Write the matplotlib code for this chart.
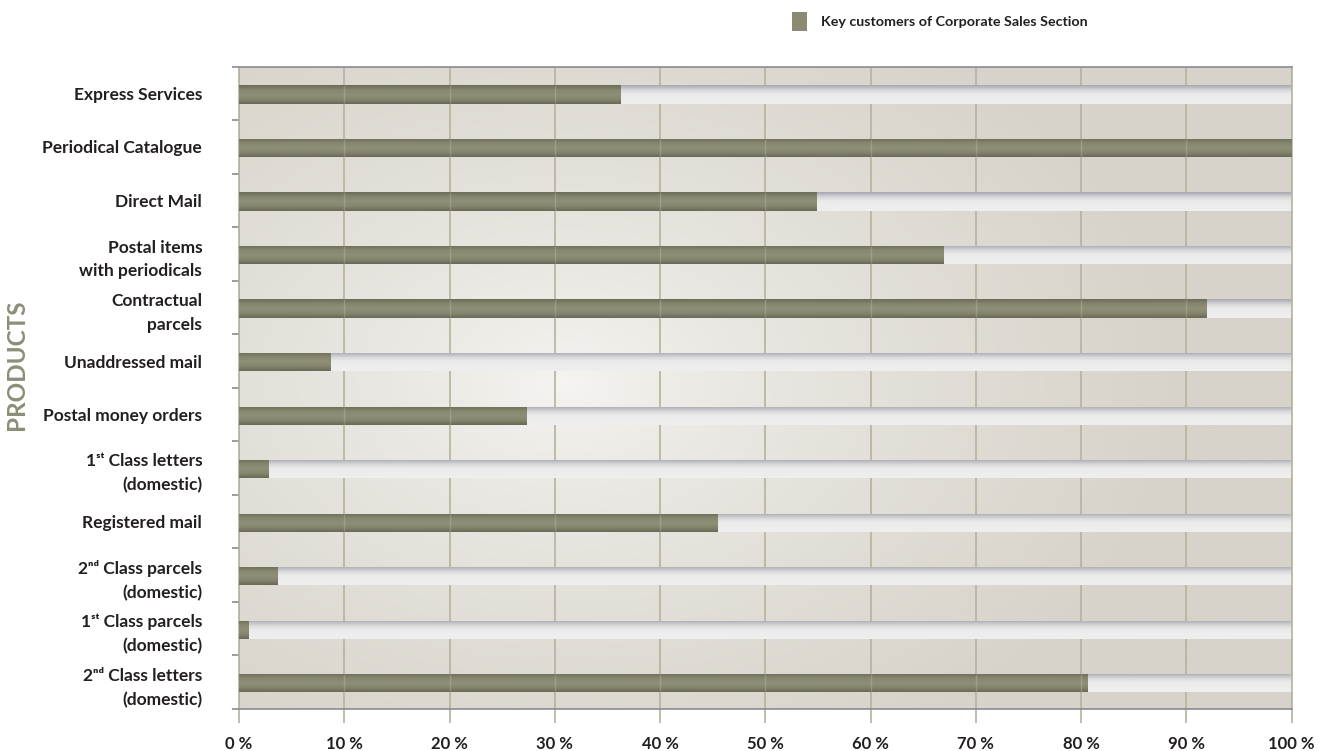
import numpy as np
import matplotlib
matplotlib.use("Agg")
import matplotlib.pyplot as plt
from matplotlib.patches import Rectangle
from matplotlib.colors import to_rgb

plt.rcParams['font.family'] = ['Lato', 'DejaVu Sans']

# ---------------- data ----------------
categories = [
    "Express Services",
    "Periodical Catalogue",
    "Direct Mail",
    "Postal items\nwith periodicals",
    "Contractual\nparcels",
    "Unaddressed mail",
    "Postal money orders",
    "1\u02e2\u1d57 Class letters\n(domestic)",
    "Registered mail",
    "2\u207f\u1d48 Class parcels\n(domestic)",
    "1\u02e2\u1d57 Class parcels\n(domestic)",
    "2\u207f\u1d48 Class letters\n(domestic)",
]
values = [36.25, 100.0, 54.85, 66.9, 91.9, 8.65, 27.35, 2.76, 45.5, 3.7, 0.86, 80.6]
xticks = [0, 10, 20, 30, 40, 50, 60, 70, 80, 90, 100]
xtick_labels = [f"{t} %" for t in xticks]
series_name = "Key customers of Corporate Sales Section"
axis_title = "PRODUCTS"

# ---------------- styling ----------------
BAR = '#8b8a72'
GRID = '#b5b29d'
SPINE = '#8a8a94'
TXT = '#231f20'

fig = plt.figure(figsize=(13.3, 7.51), dpi=100)
ax = fig.add_axes([239 / 1330, 1 - 709 / 751, (1291.5 - 239) / 1330, (709 - 66.7) / 751])

n = len(categories)
ypos = np.arange(n)
ax.set_xlim(0, 100)
ax.set_ylim(n - 0.5, -0.5)

# radial background
W, H = 1052, 642
xx, yy = np.meshgrid(np.arange(W), np.arange(H))
cx, cy = 325, 315
d = np.sqrt(((xx - cx) / 620.0) ** 2 + ((yy - cy) / 420.0) ** 2)
t = np.clip(d, 0, 1) ** 0.75
c_in = np.array(to_rgb('#f6f5f2'))
c_out = np.array(to_rgb('#d7d3ca'))
bg = c_in[None, None, :] * (1 - t[..., None]) + c_out[None, None, :] * t[..., None]
ax.imshow(bg, extent=[0, 100, n - 0.5, -0.5], aspect='auto', zorder=0, origin='upper')

ax.set_axisbelow(True)
ax.set_xticks(xticks)
ax.set_xticklabels(xtick_labels, fontsize=12, fontweight='bold', color=TXT)
ax.grid(axis='x', color=GRID, lw=1.2)

bh = 0.342
rest = [100 - v for v in values]
strips = ax.barh(ypos + 0.02, rest, left=values, height=bh, color='#ececec', lw=0, zorder=2)
bars = ax.barh(ypos + 0.02, values, height=bh, color=BAR, lw=0, zorder=3)


def vgrad(stops, nrow=60):
    pos = np.array([s[0] for s in stops])
    cols = np.array([to_rgb(s[1]) for s in stops])
    r = np.linspace(0, 1, nrow)
    out = np.stack([np.interp(r, pos, cols[:, k]) for k in range(3)], axis=-1)
    return out[:, None, :]


bar_g = vgrad([(0, '#6e6d5a'), (0.08, '#75745f'), (0.25, '#86856e'), (0.5, '#8f8e76'),
               (0.75, '#86856e'), (0.92, '#74735f'), (1, '#6a6956')])
strip_g = vgrad([(0, '#a8a8b2'), (0.12, '#bdbdc4'), (0.3, '#dcdcdf'), (0.5, '#ebebec'),
                 (1, '#efefef')])

for p in strips:
    if p.get_width() <= 0:
        continue
    x0, y0, w, h = p.get_x(), p.get_y(), p.get_width(), p.get_height()
    im = ax.imshow(strip_g, extent=[x0, x0 + w, y0 + h, y0], aspect='auto', zorder=2.1,
                   origin='upper')
    im.set_clip_path(p)
for p in bars:
    x0, y0, w, h = p.get_x(), p.get_y(), p.get_width(), p.get_height()
    im = ax.imshow(bar_g, extent=[x0, x0 + w, y0 + h, y0], aspect='auto', zorder=3.1,
                   origin='upper')
    im.set_clip_path(p)
    inner = [g for g in xticks if x0 < g < x0 + w]
    if inner:
        ax.vlines(inner, y0, y0 + h, color='white', alpha=0.18, lw=1.0, zorder=3.2)

ax.set_xlim(0, 100)
ax.set_ylim(n - 0.5, -0.5)

# y axis ticks / labels
ax.set_yticks(ypos)
ax.set_yticklabels(categories, fontsize=12.5, fontweight='bold', color=TXT, linespacing=1.6)
ax.set_yticks(np.arange(n + 1) - 0.5, minor=True)
ax.tick_params(axis='y', which='major', length=0, pad=26.5)
ax.tick_params(axis='y', which='minor', length=5, width=1.2, color=SPINE)
ax.tick_params(axis='x', which='major', length=10, width=1.2, color=GRID, pad=9.5)

for s in ['top', 'bottom']:
    ax.spines[s].set_color(SPINE)
    ax.spines[s].set_linewidth(1.2)
for s in ['left', 'right']:
    ax.spines[s].set_color(GRID)
    ax.spines[s].set_linewidth(1.2)

fig.text(17 / 1330, 1 - 365 / 751, axis_title, rotation=90, ha='center', va='center',
         fontsize=17.5, color='#8e8d78', fontweight='bold')

# legend (manual)
fig.patches.append(Rectangle((791.7 / 1330, 1 - 30.7 / 751), 15 / 1330, 18.7 / 751,
                             transform=fig.transFigure, facecolor=BAR, edgecolor='none'))
fig.text(820.7 / 1330, 1 - 21.8 / 751, series_name, ha='left', va='center',
         fontsize=10.3, fontweight='bold', color=TXT)

fig.savefig('out.png', dpi=100)
